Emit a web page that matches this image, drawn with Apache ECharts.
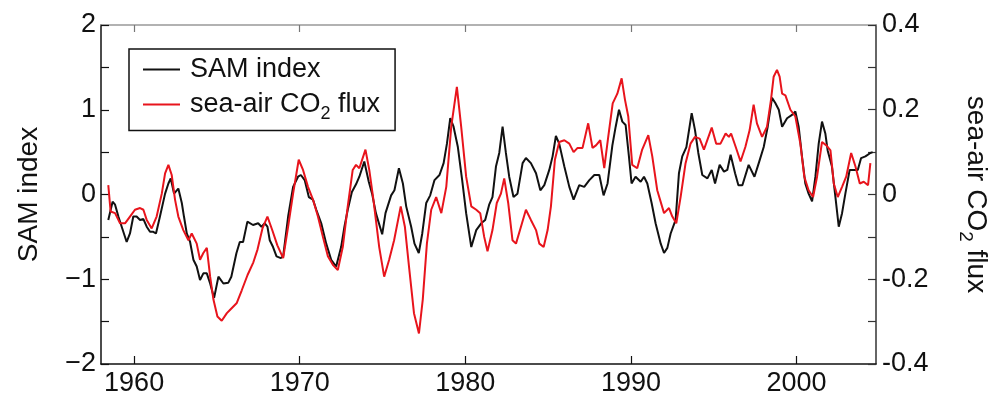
<!DOCTYPE html>
<html>
<head>
<meta charset="utf-8">
<script src="https://cdn.jsdelivr.net/npm/echarts@6/dist/echarts.min.js"></script>
<style>
  html, body { margin: 0; padding: 0; background: #fff; }
  #chart { width: 998px; height: 397px; }
</style>
</head>
<body>
<div id="chart"></div>
<script>
// SAM index (left axis)
const samYear = [1958.44, 1958.7, 1958.85, 1959.05, 1959.25, 1959.55, 1959.75, 1959.95, 1960.15, 1960.36, 1960.56, 1960.76, 1960.96, 1961.16, 1961.32, 1961.56, 1961.87, 1962.07, 1962.21, 1962.41, 1962.67, 1962.88, 1963.01, 1963.18, 1963.38, 1963.58, 1963.78, 1963.98, 1964.18, 1964.39, 1964.59, 1964.83, 1965.09, 1965.39, 1965.69, 1965.87, 1966.18, 1966.38, 1966.58, 1966.84, 1967.18, 1967.49, 1967.69, 1967.89, 1968.05, 1968.19, 1968.39, 1968.6, 1968.86, 1969.0, 1969.3, 1969.6, 1969.9, 1970.07, 1970.3, 1970.55, 1970.8, 1971.0, 1971.3, 1971.6, 1971.9, 1972.2, 1972.5, 1972.7, 1972.9, 1973.15, 1973.4, 1973.6, 1973.9, 1974.17, 1974.37, 1974.6, 1974.98, 1975.18, 1975.52, 1975.72, 1975.99, 1976.23, 1976.43, 1976.73, 1976.93, 1977.19, 1977.4, 1977.64, 1977.88, 1978.14, 1978.44, 1978.69, 1978.89, 1979.09, 1979.29, 1979.55, 1979.81, 1980.05, 1980.36, 1980.66, 1980.96, 1981.2, 1981.44, 1981.64, 1981.85, 1982.05, 1982.25, 1982.45, 1982.65, 1982.91, 1983.15, 1983.46, 1983.66, 1983.96, 1984.27, 1984.53, 1984.77, 1985.07, 1985.27, 1985.47, 1985.67, 1985.98, 1986.28, 1986.54, 1986.88, 1987.18, 1987.49, 1987.79, 1988.09, 1988.35, 1988.59, 1988.88, 1989.08, 1989.28, 1989.48, 1989.68, 1989.88, 1990.04, 1990.28, 1990.59, 1990.79, 1990.99, 1991.25, 1991.49, 1991.8, 1992.0, 1992.2, 1992.4, 1992.7, 1992.9, 1993.1, 1993.35, 1993.67, 1993.87, 1994.07, 1994.31, 1994.62, 1994.88, 1995.08, 1995.36, 1995.62, 1995.82, 1996.02, 1996.29, 1996.49, 1996.73, 1996.85, 1997.11, 1997.46, 1997.72, 1998.02, 1998.26, 1998.52, 1998.72, 1998.93, 1999.13, 1999.43, 1999.73, 1999.93, 2000.13, 2000.33, 2000.53, 2000.73, 2000.94, 2001.14, 2001.34, 2001.54, 2001.74, 2001.88, 2002.14, 2002.35, 2002.55, 2002.75, 2002.95, 2003.21, 2003.45, 2003.7, 2003.9, 2004.16, 2004.46, 2004.6];
const samIndex = [-0.30, -0.085, -0.12, -0.26, -0.38, -0.56, -0.46, -0.26, -0.26, -0.30, -0.29, -0.38, -0.44, -0.44, -0.46, -0.26, 0.01, 0.13, 0.19, 0.01, 0.07, -0.10, -0.26, -0.46, -0.56, -0.77, -0.85, -1.01, -0.93, -0.93, -1.05, -1.22, -0.97, -1.05, -1.04, -0.97, -0.69, -0.56, -0.56, -0.32, -0.36, -0.34, -0.38, -0.34, -0.38, -0.54, -0.62, -0.73, -0.75, -0.73, -0.26, 0.09, 0.21, 0.23, 0.17, -0.03, -0.06, -0.18, -0.34, -0.58, -0.77, -0.85, -0.62, -0.38, -0.18, 0.03, 0.12, 0.21, 0.39, 0.15, 0.01, -0.22, -0.47, -0.22, -0.01, 0.05, 0.31, 0.13, -0.14, -0.38, -0.58, -0.69, -0.46, -0.10, -0.01, 0.17, 0.23, 0.37, 0.60, 0.90, 0.80, 0.56, 0.17, -0.22, -0.62, -0.42, -0.34, -0.30, -0.12, -0.03, 0.33, 0.49, 0.80, 0.49, 0.21, -0.03, 0.01, 0.37, 0.43, 0.37, 0.25, 0.05, 0.11, 0.29, 0.45, 0.69, 0.60, 0.33, 0.09, -0.06, 0.11, 0.09, 0.17, 0.23, 0.23, -0.01, 0.13, 0.58, 0.80, 1.00, 0.86, 0.82, 0.45, 0.13, 0.21, 0.15, 0.21, 0.13, -0.10, -0.34, -0.58, -0.69, -0.63, -0.46, -0.30, 0.25, 0.45, 0.56, 0.96, 0.76, 0.49, 0.23, 0.19, 0.29, 0.13, 0.35, 0.27, 0.29, 0.47, 0.25, 0.11, 0.11, 0.09, 0.35, 0.21, 0.37, 0.56, 0.80, 1.14, 1.08, 1.00, 0.80, 0.90, 0.94, 0.98, 0.80, 0.45, 0.13, 0.01, -0.08, 0.21, 0.60, 0.86, 0.72, 0.52, 0.33, -0.03, -0.38, -0.22, 0.01, 0.29, 0.29, 0.29, 0.43, 0.45, 0.49, 0.50];

// sea-air CO2 flux (right axis)
const fluxYear = [1958.44, 1958.58, 1958.85, 1959.15, 1959.45, 1959.75, 1960.05, 1960.36, 1960.56, 1960.76, 1961.06, 1961.36, 1961.67, 1961.87, 1962.07, 1962.27, 1962.47, 1962.67, 1962.97, 1963.28, 1963.48, 1963.78, 1963.98, 1964.18, 1964.39, 1964.59, 1964.79, 1965.03, 1965.29, 1965.6, 1965.8, 1966.2, 1966.5, 1966.85, 1967.2, 1967.45, 1967.75, 1968.05, 1968.35, 1968.65, 1969.0, 1969.3, 1969.6, 1969.94, 1970.2, 1970.5, 1970.8, 1971.1, 1971.4, 1971.7, 1972.0, 1972.3, 1972.6, 1972.9, 1973.2, 1973.4, 1973.6, 1973.97, 1974.2, 1974.45, 1974.8, 1975.1, 1975.4, 1975.7, 1976.1, 1976.35, 1976.6, 1976.9, 1977.2, 1977.43, 1977.68, 1977.94, 1978.24, 1978.55, 1978.85, 1979.15, 1979.49, 1979.75, 1980.05, 1980.36, 1980.66, 1980.9, 1981.14, 1981.34, 1981.64, 1981.9, 1982.15, 1982.35, 1982.59, 1982.85, 1983.06, 1983.36, 1983.66, 1983.96, 1984.27, 1984.47, 1984.73, 1984.97, 1985.17, 1985.41, 1985.67, 1985.98, 1986.28, 1986.54, 1986.78, 1987.08, 1987.42, 1987.68, 1987.89, 1988.15, 1988.39, 1988.63, 1988.9, 1989.18, 1989.44, 1989.64, 1989.84, 1990.08, 1990.38, 1990.68, 1991.05, 1991.29, 1991.59, 1992.0, 1992.3, 1992.5, 1992.74, 1993.0, 1993.3, 1993.6, 1993.87, 1994.15, 1994.41, 1994.88, 1995.15, 1995.41, 1995.72, 1995.92, 1996.05, 1996.33, 1996.62, 1996.91, 1997.17, 1997.41, 1997.61, 1997.92, 1998.22, 1998.46, 1998.62, 1998.82, 1998.98, 1999.13, 1999.33, 1999.63, 1999.93, 2000.23, 2000.47, 2000.73, 2001.0, 2001.24, 2001.54, 2001.8, 2002.05, 2002.25, 2002.49, 2002.75, 2003.0, 2003.3, 2003.56, 2003.82, 2004.06, 2004.32, 2004.46];
const fluxValue = [0.022, -0.040, -0.044, -0.068, -0.068, -0.052, -0.036, -0.032, -0.036, -0.060, -0.080, -0.052, 0.002, 0.050, 0.070, 0.046, -0.012, -0.052, -0.084, -0.108, -0.092, -0.116, -0.154, -0.138, -0.126, -0.194, -0.248, -0.288, -0.298, -0.280, -0.272, -0.256, -0.226, -0.190, -0.160, -0.130, -0.080, -0.052, -0.085, -0.120, -0.150, -0.076, 0.002, 0.082, 0.058, 0.018, -0.012, -0.052, -0.100, -0.146, -0.166, -0.178, -0.124, -0.028, 0.058, 0.070, 0.062, 0.106, 0.058, -0.012, -0.124, -0.194, -0.154, -0.108, -0.028, -0.076, -0.170, -0.280, -0.328, -0.248, -0.116, -0.036, -0.006, -0.044, 0.018, 0.160, 0.254, 0.160, 0.042, -0.028, -0.036, -0.044, -0.100, -0.134, -0.084, -0.020, 0.002, 0.038, -0.020, -0.108, -0.116, -0.076, -0.036, -0.060, -0.084, -0.116, -0.124, -0.084, -0.028, 0.082, 0.124, 0.128, 0.120, 0.100, 0.110, 0.110, 0.168, 0.110, 0.116, 0.128, 0.062, 0.136, 0.215, 0.238, 0.274, 0.224, 0.184, 0.070, 0.062, 0.106, 0.140, 0.090, 0.010, -0.044, -0.032, -0.052, -0.068, -0.006, 0.074, 0.120, 0.136, 0.132, 0.106, 0.158, 0.120, 0.120, 0.144, 0.136, 0.144, 0.112, 0.078, 0.112, 0.152, 0.212, 0.168, 0.136, 0.160, 0.224, 0.278, 0.294, 0.278, 0.238, 0.234, 0.200, 0.184, 0.120, 0.042, 0.010, -0.006, 0.042, 0.124, 0.116, 0.104, 0.026, -0.006, 0.018, 0.042, 0.098, 0.066, 0.026, 0.030, 0.022, 0.074];

const yearTicks = [1960, 1970, 1980, 1990, 2000];

const font = 'Liberation Sans, Arial, Helvetica, sans-serif';
const chart = echarts.init(document.getElementById('chart'));

const option = {
  animation: false,
  backgroundColor: '#fff',
  textStyle: { fontFamily: font },
  grid: { left: 101, right: 122, top: 25, bottom: 33, outerBoundsMode: 'none' },
  legend: {
    orient: 'vertical',
    left: 129,
    top: 49,
    backgroundColor: '#fff',
    borderColor: '#111',
    borderWidth: 1.5,
    borderRadius: 0,
    padding: [7, 15, 7, 14],
    itemGap: 8,
    itemWidth: 37,
    itemHeight: 2,
    icon: 'rect',
    data: ['SAM index', 'sea-air CO2 flux'],
    formatter: name => name === 'sea-air CO2 flux' ? '{t|sea-air CO}{s|2}{t| flux}' : '{t|' + name + '}',
    textStyle: {
      fontFamily: font,
      color: '#111',
      padding: [0, 0, 0, 5],
      rich: {
        t: { fontSize: 27, lineHeight: 30, fontFamily: font, color: '#111' },
        s: { fontSize: 18, lineHeight: 30, fontFamily: font, color: '#111', verticalAlign: 'bottom', padding: [0, 0, -4, 0] }
      }
    }
  },
  xAxis: [
    {
      type: 'value',
      position: 'bottom',
      min: 1958,
      max: 2004.8,
      axisLine: { onZero: false, lineStyle: { color: '#111', width: 1.5 } },
      axisTick: { inside: true, length: 8, customValues: yearTicks, lineStyle: { color: '#111', width: 1.2 } },
      axisLabel: { customValues: yearTicks, fontSize: 27, color: '#111', margin: 6, fontFamily: font, formatter: v => String(v) },
      splitLine: { show: false }
    },
    {
      type: 'value',
      position: 'top',
      min: 1958,
      max: 2004.8,
      axisLine: { onZero: false, lineStyle: { color: '#999', width: 1.5 } },
      axisTick: { inside: true, length: 7, customValues: yearTicks, lineStyle: { color: '#777', width: 1.2 } },
      axisLabel: { show: false },
      splitLine: { show: false }
    }
  ],
  yAxis: [
    {
      type: 'value',
      position: 'left',
      min: -2,
      max: 2,
      interval: 0.5,
      name: 'SAM index',
      nameLocation: 'middle',
      nameGap: 58,
      nameTextStyle: { fontSize: 28, color: '#111', fontFamily: font },
      axisLine: { show: true, onZero: false, lineStyle: { color: '#111', width: 1.5 } },
      axisTick: { inside: true, length: 8, lineStyle: { color: '#111', width: 1.2 } },
      axisLabel: {
        fontSize: 27, color: '#111', margin: 5, fontFamily: font,
        formatter: v => Number.isInteger(v) ? (v < 0 ? '\u2212' + Math.abs(v) : String(v)) : ''
      },
      splitLine: { show: false }
    },
    {
      type: 'value',
      position: 'right',
      min: -0.4,
      max: 0.4,
      interval: 0.1,
      name: '{t|sea-air CO}{s|2}{t| flux}',
      nameLocation: 'middle',
      nameGap: 84,
      nameRotate: -90,
      nameTextStyle: {
        color: '#111',
        rich: {
          t: { fontSize: 28, lineHeight: 32, fontFamily: font, color: '#111' },
          s: { fontSize: 19, lineHeight: 32, fontFamily: font, color: '#111', verticalAlign: 'bottom', padding: [0, 0, -4, 0] }
        }
      },
      axisLine: { show: true, onZero: false, lineStyle: { color: '#333', width: 1.5 } },
      axisTick: { inside: true, length: 8, lineStyle: { color: '#333', width: 1.2 } },
      axisLabel: {
        fontSize: 27, color: '#111', margin: 6, fontFamily: font,
        formatter: v => {
          const k = Math.round(v * 10);
          if (k % 2) return '';
          return k === 0 ? '0' : (k / 10).toFixed(1);
        }
      },
      splitLine: { show: false }
    }
  ],
  series: [
    {
      name: 'SAM index',
      type: 'line',
      xAxisIndex: 0,
      yAxisIndex: 0,
      symbol: 'none',
      color: '#111',
      lineStyle: { color: '#111', width: 2 },
      data: samYear.map((y, i) => [y, samIndex[i]])
    },
    {
      name: 'sea-air CO2 flux',
      type: 'line',
      xAxisIndex: 0,
      yAxisIndex: 1,
      symbol: 'none',
      color: '#e8141c',
      lineStyle: { color: '#e8141c', width: 2 },
      data: fluxYear.map((y, i) => [y, fluxValue[i]])
    }
  ]
};

chart.setOption(option);
</script>
</body>
</html>
